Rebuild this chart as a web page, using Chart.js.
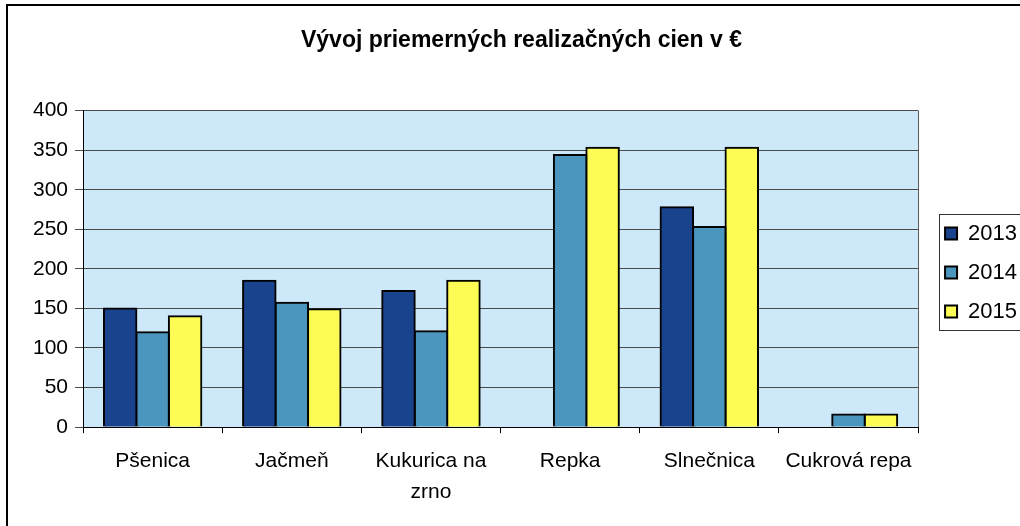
<!DOCTYPE html>
<html>
<head>
<meta charset="utf-8">
<script src="https://cdn.jsdelivr.net/npm/chart.js@4"></script>
<style>
    html, body { margin: 0; padding: 0; background: #ffffff; }
    #wrap { width: 1020px; height: 526px; position: relative; }
</style>
</head>
<body>
<div id="wrap"><canvas id="priceChart" width="1020" height="526"></canvas></div>
<script>
// Kategórie a hodnoty (€)
const categories = ['Pšenica', 'Jačmeň', ['Kukurica na', 'zrno'], 'Repka', 'Slnečnica', 'Cukrová repa'];
const years = ['2013', '2014', '2015'];
const values2013 = [150, 185, 172, null, 278, null];
const values2014 = [120, 157, 121, 344, 253, 16];
const values2015 = [140, 149, 185, 353, 353, 16];
const yTicks = [0, 50, 100, 150, 200, 250, 300, 350, 400];

const colors = ['#1a438e', '#4a96bf', '#fcfc55'];
const font = 'Liberation Sans, Arial';

// pozadie grafu + rámiky
const framePlugin = {
    id: 'frame',
    afterLayout(chart) {
        // posunúť legendu trochu doprava (ako v Exceli)
        const lg = chart.legend;
        if (!lg) return;
        lg.left += 10;
        lg.right += 10;
        lg.top -= 1;
        lg.bottom -= 1;
    },
    beforeDraw(chart) {
        const { ctx, chartArea: a } = chart;
        ctx.save();
        ctx.fillStyle = '#cde9f9';
        ctx.fillRect(a.left, a.top, a.right - a.left, a.bottom - a.top);
        ctx.restore();
    },
    afterDraw(chart) {
        const { ctx, chartArea: a, legend } = chart;
        ctx.save();
        ctx.strokeStyle = '#000';
        ctx.lineWidth = 2;
        ctx.strokeRect(7, 5, 1030, 540);
        ctx.strokeStyle = '#555';
        ctx.lineWidth = 1;
        ctx.beginPath();
        ctx.moveTo(a.right + 0.5, a.top);
        ctx.lineTo(a.right + 0.5, a.bottom);
        ctx.stroke();
        if (legend && legend.legendHitBoxes.length) {
            const hb = legend.legendHitBoxes;
            const left = Math.min(...hb.map(h => h.left)) - 6;
            const top = Math.min(...hb.map(h => h.top)) - 9;
            const bottom = Math.max(...hb.map(h => h.top + h.height)) + 7;
            ctx.strokeStyle = '#333';
            ctx.strokeRect(Math.round(left) + 0.5, Math.round(top) + 0.5, 200, bottom - top);
        }
        ctx.restore();
    }
};

const ctx = document.getElementById('priceChart');
new Chart(ctx, {
    type: 'bar',
    data: {
        labels: categories,
        datasets: [values2013, values2014, values2015].map((vals, i) => ({
            label: years[i],
            data: vals,
            backgroundColor: colors[i],
            borderColor: '#000',
            borderWidth: 2,
            inflateAmount: 1,
            categoryPercentage: 0.7,
            barPercentage: 1
        }))
    },
    options: {
        responsive: false,
        animation: false,
        layout: { padding: { top: 27, left: 26, right: 3, bottom: 6 } },
        plugins: {
            title: {
                display: true,
                text: 'Vývoj priemerných realizačných cien v €',
                color: '#000',
                font: { family: font, size: 23, weight: 'bold' },
                padding: { top: 0, bottom: 56 }
            },
            legend: {
                position: 'right',
                labels: {
                    color: '#000',
                    boxWidth: 12,
                    boxHeight: 12,
                    padding: 17,
                    font: { family: font, size: 22 }
                }
            },
            tooltip: { enabled: false }
        },
        scales: {
            x: {
                grid: { display: true, drawOnChartArea: false, drawTicks: true, tickLength: 6, color: '#000' },
                border: { color: '#000', width: 1 },
                ticks: {
                    color: '#000',
                    padding: 13,
                    maxRotation: 0,
                    font: { family: font, size: 21, lineHeight: 1.45 }
                }
            },
            y: {
                min: 0,
                max: 400,
                afterBuildTicks(scale) {
                    scale.ticks = yTicks.map(v => ({ value: v }));
                },
                grid: { color: '#4a4a4a', lineWidth: 1, tickLength: 8 },
                border: { color: '#000', width: 1 },
                ticks: {
                    color: '#000',
                    padding: 7,
                    font: { family: font, size: 21 }
                }
            }
        }
    },
    plugins: [framePlugin]
});
</script>
</body>
</html>
